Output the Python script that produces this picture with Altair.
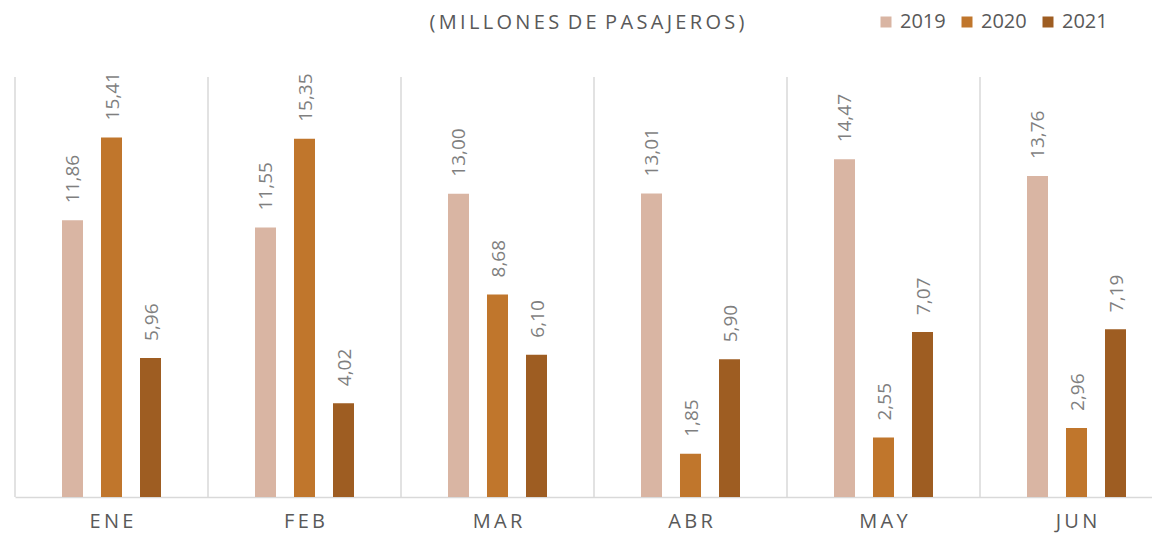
import altair as alt
import pandas as pd

months = ["ENE", "FEB", "MAR", "ABR", "MAY", "JUN"]
years = ["2019", "2020", "2021"]
v2019 = [11.86, 11.55, 13.00, 13.01, 14.47, 13.76]
v2020 = [15.41, 15.35, 8.68, 1.85, 2.55, 2.96]
v2021 = [5.96, 4.02, 6.10, 5.90, 7.07, 7.19]
colors = ["#D9B5A3", "#C0762C", "#9E5D22"]
title_text = "(MILLONES DE PASAJEROS)"

rows = []
for yr, vals in zip(years, [v2019, v2020, v2021]):
    for m, v in zip(months, vals):
        rows.append({"month": m, "year": yr, "value": v,
                     "label": f"{v:.2f}".replace(".", ",")})
df = pd.DataFrame(rows)
sep_df = pd.DataFrame({"month": months})

FONT = "Open Sans"
THIN = "\u2009"
spaced_title = (THIN + " ").join(THIN.join(w) for w in title_text.split(" "))
title_df = pd.DataFrame({"t": [spaced_title]})

x_scale = alt.Scale(domain=months, paddingInner=0, paddingOuter=0, range=[0, 1158])
x_axis = alt.Axis(title=None, grid=False, ticks=False, domain=True,
                  domainColor="#D9D9D9", domainWidth=1.5,
                  labelAngle=0, labelFontSize=20, labelColor="#595959",
                  labelFont=FONT, labelPadding=24, labelBaseline="middle",
                  labelExpr="join(split(datum.label, ''), '\u2009')")
x_enc = alt.X("month:N", scale=x_scale, sort=months, axis=x_axis)
# side slots keep the three bars centred with wide gaps to the separators
off_domain = ["_a"] + years + ["_b"]
xoff = alt.XOffset("year:N",
                   scale=alt.Scale(domain=off_domain, paddingInner=0.4615, paddingOuter=0.205))
y_enc = alt.Y("value:Q", scale=alt.Scale(domain=[0, 18], nice=False, zero=True),
              axis=None)

seps = alt.Chart(sep_df).mark_rule(color="#D9D9D9", strokeWidth=1.5).encode(
    x=alt.X("month:N", sort=months, bandPosition=0, scale=x_scale, axis=x_axis),
    y=alt.value(0), y2=alt.value(420))

bars = alt.Chart(df).mark_bar().encode(
    x=x_enc, xOffset=xoff, y=y_enc,
    color=alt.Color("year:N", sort=years,
                    scale=alt.Scale(domain=years, range=colors),
                    legend=alt.Legend(title=None, orient="none", direction="horizontal",
                                      legendX=861, legendY=-65, symbolType="square",
                                      symbolSize=121, symbolStrokeWidth=0,
                                      labelFontSize=20, labelColor="#595959",
                                      labelFont=FONT, labelOffset=4, columnPadding=11)))

labels = alt.Chart(df).mark_text(angle=270, align="left", baseline="middle",
                                 dx=17, dy=1, fontSize=19, color="#7F7F7F",
                                 font=FONT).encode(
    x=x_enc, xOffset=xoff, y=y_enc, text="label:N")

title = alt.Chart(title_df).mark_text(fontSize=20, color="#595959", font=FONT,
                                      align="center", baseline="middle").encode(
    x=alt.value(572), y=alt.value(-54), text="t:N")

chart = alt.layer(seps, bars, labels, title).properties(
    width=1137, height=420,
    autosize=alt.AutoSizeParams(type="none"),
    padding={"left": 7, "top": 69, "right": 0, "bottom": 36},
).configure_view(stroke=None)

chart.save("out.html", embed_options={"renderer": "svg", "actions": False})
